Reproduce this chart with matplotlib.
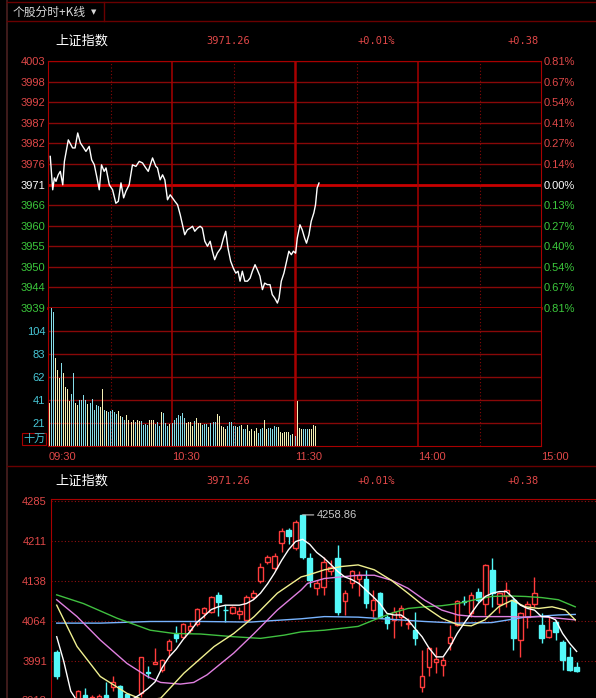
import numpy as np
import matplotlib
matplotlib.use('Agg')
import matplotlib.pyplot as plt
from matplotlib.patches import Rectangle

W, H = 596, 698
plt.rcParams['font.family'] = ['Liberation Sans', 'Noto Sans CJK SC', 'DejaVu Sans']

# ---------------- 分时数据 ----------------
prev_close = 3970.88
price_labels = ['4003', '3998', '3992', '3987', '3982', '3976', '3971',
                '3966', '3960', '3955', '3950', '3944', '3939']
pct_labels = ['0.81%', '0.67%', '0.54%', '0.41%', '0.27%', '0.14%', '0.00%',
              '0.13%', '0.27%', '0.40%', '0.54%', '0.67%', '0.81%']
vol_labels = ['21', '41', '62', '83', '104']
time_labels = ['09:30', '10:30', '11:30', '14:00', '15:00']

line_min = [0.6, 1.8, 2.6, 3.4, 4.5, 5.5, 6.7, 7.5, 9.4, 11.5,
            12.7, 14.0, 15.3, 16.9, 18.0, 19.6, 20.8, 22.1, 23.4, 24.5,
            25.6, 26.9, 27.8, 29.4, 31.0, 32.6, 33.8, 35.1, 36.4, 37.5,
            39.1, 40.7, 42.4, 44.0, 45.6, 47.2, 48.4, 50.5, 52.1, 52.9,
            54.2, 55.4, 56.5, 57.8, 59.1, 60.2, 61.4, 62.7, 64.0, 65.1,
            66.2, 67.5, 68.8, 70.0, 71.1, 72.4, 73.7, 74.8, 76.0, 77.3,
            78.6, 79.7, 80.8, 82.1, 83.8, 85.1, 86.2, 87.3, 88.6, 89.9,
            91.1, 92.2, 93.2, 94.3, 95.5, 96.8, 98.1, 99.2, 100.5, 101.6,
            102.9, 104.1, 105.2, 106.5, 107.8, 108.9, 110.1, 111.4, 112.2, 113.3,
            114.6, 115.9, 117.0, 118.2, 119.2, 120.3, 121.1, 122.4, 123.5, 124.7,
            125.6, 126.8, 127.9, 129.2, 130.0, 130.8, 131.7]
line_price = [3978.2, 3969.5, 3972.6, 3971.7, 3973.4, 3974.3, 3970.8, 3976.9, 3982.5, 3980.4,
              3980.4, 3984.3, 3981.7, 3980.4, 3979.5, 3980.8, 3977.3, 3976.0, 3972.6, 3969.5,
              3976.0, 3974.3, 3975.2, 3970.8, 3969.5, 3966.0, 3966.5, 3971.3, 3967.4, 3969.1,
              3970.8, 3976.0, 3975.6, 3976.9, 3976.5, 3975.2, 3974.3, 3977.8, 3975.6, 3975.2,
              3972.1, 3973.4, 3972.1, 3966.9, 3968.2, 3967.4, 3966.5, 3965.6, 3963.0, 3960.4,
              3957.8, 3959.1, 3959.5, 3960.0, 3958.7, 3959.5, 3960.0, 3959.5, 3956.1, 3954.8,
              3956.1, 3953.5, 3951.3, 3953.0, 3954.3, 3956.9, 3958.7, 3954.3, 3950.9, 3949.1,
              3947.8, 3948.3, 3945.7, 3948.3, 3945.7, 3945.7, 3946.5, 3948.3, 3950.0, 3948.7,
              3947.0, 3943.5, 3945.2, 3944.8, 3944.8, 3942.2, 3941.3, 3940.0, 3941.3, 3945.7,
              3947.8, 3950.9, 3953.5, 3952.6, 3953.5, 3953.0, 3956.9, 3960.4, 3959.1, 3956.9,
              3955.6, 3957.8, 3961.3, 3963.5, 3965.6, 3970.0, 3971.26]

# 成交量 (十万), 每分钟一根
volume = [39, 125, 121, 80, 69, 62, 75, 66, 53, 52, 41, 47, 66, 39, 37, 42, 42, 46, 42, 38,
          39, 43, 33, 37, 36, 35, 52, 33, 32, 31, 32, 33, 31, 29, 32, 27, 26, 24, 28, 24,
          22, 24, 22, 24, 23, 23, 19, 20, 19, 24, 24, 24, 20, 22, 18, 31, 30, 21, 18, 20,
          21, 24, 25, 28, 27, 30, 25, 21, 22, 22, 18, 23, 25, 21, 21, 19, 20, 20, 17, 21,
          22, 22, 29, 27, 18, 17, 15, 18, 22, 22, 18, 18, 17, 18, 19, 15, 15, 19, 14, 15,
          14, 16, 12, 15, 16, 24, 15, 16, 16, 15, 18, 17, 17, 13, 12, 13, 13, 13, 10, 11,
          9, 41, 16, 15, 15, 15, 15, 15, 15, 19, 18]

# ---------------- K线数据 ----------------
k_open = [4007, 3920, 3895, 3905, 3928, 3915, 3910, 3928, 3942, 3944,
          3930, 3905, 3932, 3970, 3985, 3974, 4011, 4040, 4035, 4047,
          4058, 4078, 4080, 4111, 4085, 4079, 4077, 4066, 4108, 4138,
          4173, 4161, 4207, 4232, 4198, 4258, 4179, 4124, 4127, 4155,
          4179, 4100, 4133, 4142, 4142, 4084, 4115, 4072, 4066, 4072,
          4059, 4047, 3943, 3980, 3989, 3983, 4023, 4057, 4100, 4078,
          4118, 4096, 4158, 4096, 4109, 4103, 4029, 4072, 4096, 4057,
          4035, 4063, 4026, 3998, 3980]
k_high = [4010, 3921, 3915, 3938, 3940, 3928, 3930, 3952, 3963, 3946,
          3932, 3918, 3998, 3981, 4014, 3995, 4030, 4054, 4060, 4063,
          4088, 4090, 4110, 4117, 4093, 4092, 4090, 4112, 4121, 4170,
          4185, 4188, 4234, 4234, 4250, 4258.86, 4188, 4139, 4182, 4176,
          4204, 4121, 4158, 4155, 4158, 4121, 4118, 4075, 4090, 4093,
          4069, 4081, 4011, 4017, 4017, 3998, 4057, 4103, 4109, 4118,
          4124, 4169, 4179, 4118, 4136, 4106, 4081, 4100, 4145, 4078,
          4072, 4066, 4029, 4017, 3989]
k_low = [3958, 3880, 3870, 3900, 3890, 3908, 3905, 3900, 3936, 3900,
         3895, 3885, 3925, 3960, 3984, 3970, 3998, 4026, 4032, 4041,
         4055, 4069, 4078, 4073, 4063, 4077, 4067, 4064, 4104, 4134,
         4169, 4158, 4191, 4205, 4195, 4178, 4127, 4112, 4112, 4149,
         4075, 4075, 4124, 4109, 4087, 4072, 4069, 4050, 4032, 4054,
         4050, 4020, 3934, 3962, 3968, 3962, 4011, 4054, 4093, 4072,
         4098, 4075, 4090, 4078, 4090, 4011, 3998, 4051, 4090, 4023,
         4032, 4029, 3974, 3972, 3971]
k_close = [3962, 3890, 3880, 3936, 3900, 3924, 3926, 3905, 3952, 3910,
           3905, 3912, 3997, 3968, 3989, 3992, 4028, 4032, 4058, 4055,
           4086, 4087, 4108, 4098, 4084, 4090, 4083, 4108, 4116, 4163,
           4182, 4183, 4230, 4220, 4246, 4182, 4140, 4133, 4173, 4164,
           4081, 4115, 4155, 4148, 4097, 4102, 4072, 4060, 4081, 4087,
           4061, 4032, 3962, 4014, 3995, 3992, 4035, 4100, 4099, 4112,
           4102, 4167, 4115, 4115, 4121, 4032, 4078, 4096, 4115, 4032,
           4047, 4044, 3992, 3974, 3971.26]
k_ticks = [4285, 4211, 4138, 4064, 3991, 3918]
high_mark = 4258.86

ma5 = [4035, 3990, 3935, 3915, 3905, 3908, 3912, 3915, 3920, 3918,
       3918, 3922, 3930, 3940, 3952, 3978, 3998, 4012, 4030, 4045,
       4062, 4073, 4085, 4090, 4093, 4093, 4093, 4096, 4103, 4115,
       4132, 4152, 4175, 4195, 4210, 4214, 4205, 4190, 4180, 4168,
       4155, 4145, 4140, 4133, 4121, 4109, 4096, 4078, 4075, 4075,
       4066, 4050, 4035, 4014, 3998, 3998, 4017, 4041, 4060, 4078,
       4096, 4109, 4115, 4118, 4118, 4106, 4093, 4087, 4084, 4072,
       4072, 4066, 4041, 4023, 4008]
ma10_k = [0, 2.9, 6.2, 10, 12.5, 14.8, 18.1, 22.4, 25.2, 28.1, 31.4, 34.8, 35.7, 38.1, 40.5,
          42.9, 45.2, 47.6, 50, 52.4, 54.8, 57.1, 59, 60.95, 62.9, 64.8, 66.7, 68.6, 70.5, 72.4, 73.8]
ma10 = [4093, 4017, 3962, 3931, 3918, 3922, 3968, 4017, 4041, 4072, 4115, 4145, 4148, 4158, 4164,
        4167, 4158, 4139, 4115, 4090, 4069, 4057, 4055, 4066, 4090, 4102, 4090, 4087, 4090, 4084, 4066]
ma20_k = [0, 2.9, 6.2, 10, 12.9, 14.8, 17.6, 19.5, 21.4, 25.2, 28.1, 31.4, 34.8, 35.7, 38.1,
          40.5, 42.9, 45.2, 47.6, 50, 52.4, 54.8, 57.1, 59.5, 61.9, 64.3, 66.7, 69, 71.4, 73.8]
ma20 = [4103, 4072, 4029, 3986, 3962, 3951, 3948, 3951, 3965, 4005, 4041, 4084, 4121, 4133, 4142,
        4145, 4148, 4148, 4139, 4124, 4102, 4084, 4075, 4072, 4072, 4072, 4071, 4072, 4069, 4066]
ma60_k = [0, 3.8, 8.6, 13.3, 16.7, 20.5, 25.2, 29, 32.4, 34.8, 38.1, 42.9, 45.2, 47.6, 50,
          52.4, 54.8, 57.1, 59.5, 61.9, 64.3, 66.7, 69, 71.4, 73.8]
ma60 = [4112, 4096, 4069, 4047, 4041, 4040, 4035, 4032, 4038, 4044, 4047, 4054, 4066, 4078, 4087,
        4090, 4092, 4096, 4103, 4109, 4110, 4109, 4107, 4103, 4090]
ma120_k = [0, 6.2, 13.3, 20.5, 27.6, 34.8, 38.1, 42.9, 47.6, 52.4, 57.1, 61.9, 66.7, 71.4, 73.8]
ma120 = [4060, 4060, 4063, 4063, 4062, 4068, 4072, 4071, 4067, 4063, 4060, 4061, 4071, 4075, 4076]

# 颜色
GRID = '#880808'
FRAME = '#a80000'
RED_TXT = '#e04848'
GRN_TXT = '#3cc83c'
CYAN_TXT = '#48c8d8'


def add_ax(l, t, r, b):
    # 以像素坐标 (左, 上, 右, 下) 建轴
    return fig.add_axes([l / W, 1 - b / H, (r - l) / W, (b - t) / H])


fig = plt.figure(figsize=(W / 100, H / 100), dpi=100, facecolor='black')

# 背景层: 边框和标题文字
bg = fig.add_axes([0, 0, 1, 1])
bg.set_xlim(0, W)
bg.set_ylim(H, 0)
bg.axis('off')
bg.plot([7, 7], [0, H], color='#4a2020', lw=1.2)
bg.plot([7, W], [2, 2], color='#6a0000', lw=1)
bg.plot([7, W], [21, 21], color='#6a0000', lw=1)
bg.plot([104, 104], [2, 21], color='#6a0000', lw=1)
bg.plot([7, W], [466, 466], color='#6a0000', lw=1)
bg.text(13, 12, '个股分时+K线', color='#d8d8d8', fontsize=8.5, va='center',
        family=['Noto Sans CJK SC', 'DejaVu Sans'])
bg.text(91, 12, '▼', color='#d8d8d8', fontsize=5, va='center', family='DejaVu Sans')
for yy in (41, 481):
    bg.text(55, yy, '上证指数', color='white', fontsize=9.5, va='center',
            family=['Noto Sans CJK SC', 'DejaVu Sans'])
    bg.text(206, yy, '3971.26', color=RED_TXT, fontsize=7.5, va='center', family='DejaVu Sans Mono')
    bg.text(357, yy, '+0.01%', color=RED_TXT, fontsize=7.5, va='center', family='DejaVu Sans Mono')
    bg.text(508, yy, '+0.38', color=RED_TXT, fontsize=7.5, va='center', family='DejaVu Sans Mono')
bg.text(34, 439, '十万', color=CYAN_TXT, fontsize=8, ha='center', va='center',
        family=['Noto Sans CJK SC', 'DejaVu Sans'],
        bbox=dict(boxstyle='square,pad=0.1', fc='black', ec=FRAME, lw=0.8))

# ---------------- 分时价格 ----------------
lo, hi = prev_close * (1 - 0.0081), prev_close * (1 + 0.0081)
levels = np.linspace(hi, lo, len(price_labels))
pa = add_ax(48, 61, 541, 308)
pa.set_facecolor('black')
pa.set_xlim(-0.5, 240)
pa.set_ylim(lo, hi)
for j, lv in enumerate(levels):
    if j == 6:
        pa.axhline(lv, color='#c80000', lw=2, zorder=1)
    elif j == len(levels) - 1:
        pa.axhline(lv, color='#a00000', lw=2, clip_on=False, zorder=1)
    else:
        pa.axhline(lv, color=GRID, lw=1, zorder=1)
for m in (60, 180):
    pa.axvline(m, color=FRAME, lw=1.1, zorder=1)
pa.axvline(120, color=FRAME, lw=1.8, zorder=1)
for m in (30, 90, 150, 210):
    pa.axvline(m, color=GRID, lw=0.8, ls=(0, (1, 2)), zorder=1)
pa.plot(line_min, line_price, color='white', lw=1, zorder=3)
for s in pa.spines.values():
    s.set_color(FRAME)
pa.spines['bottom'].set_visible(False)
pa.set_xticks([])
pa.set_yticks(levels)
pa.set_yticklabels(price_labels)
pa.tick_params(axis='y', length=0, pad=2, labelsize=8)
for j, t in enumerate(pa.get_yticklabels()):
    t.set_color(RED_TXT if j < 6 else ('white' if j == 6 else GRN_TXT))
pr = pa.twinx()
pr.set_ylim(lo, hi)
pr.set_yticks(levels)
pr.set_yticklabels(pct_labels)
pr.tick_params(axis='y', length=0, pad=2, labelsize=8)
for s in pr.spines.values():
    s.set_visible(False)
for j, t in enumerate(pr.get_yticklabels()):
    t.set_color(RED_TXT if j < 6 else ('white' if j == 6 else GRN_TXT))

# ---------------- 成交量 ----------------
va = add_ax(48, 308, 541, 446)
va.set_facecolor('black')
va.set_xlim(-0.5, 240)
va.set_ylim(0, 125)
vol_levels = np.linspace(0, 125, 7)[1:-1]
for lv in vol_levels:
    va.axhline(lv, color=GRID, lw=1, zorder=1)
for m in (60, 180):
    va.axvline(m, color=FRAME, lw=1.1, zorder=1)
va.axvline(120, color=FRAME, lw=1.8, zorder=1)
for m in (30, 90, 150, 210):
    va.axvline(m, color=GRID, lw=0.8, ls=(0, (1, 2)), zorder=1)
vx = np.arange(len(volume))
p_at = np.interp(vx, line_min, line_price)
up = np.r_[True, np.diff(p_at) >= 0]
vcol = np.where(up, '#f4f0b4', '#86dce8')
va.bar(vx, volume, width=0.5, color=vcol, lw=0, zorder=2)
for s in va.spines.values():
    s.set_color(FRAME)
va.spines['top'].set_visible(False)
va.set_yticks(vol_levels)
va.set_yticklabels(vol_labels)
va.tick_params(axis='y', length=0, pad=2, labelsize=8, labelcolor=CYAN_TXT)
va.set_xticks([0, 60, 120, 180, 240])
va.set_xticklabels(time_labels)
va.tick_params(axis='x', length=0, pad=4, labelsize=8, labelcolor=RED_TXT)
for t in va.get_xticklabels():
    t.set_ha('left')

# ---------------- 日K线 ----------------
ka = add_ax(51, 499, W + 2, 760)
ka.set_facecolor('black')
ka.set_xlim(-0.81, 77.04)
ka.set_ylim(3808.5, 4288.1)
for lv in k_ticks:
    ka.axhline(lv, color='#901010', lw=0.8, ls=(0, (1, 2)), zorder=1)
for i in range(len(k_open)):
    o, h, l, c = k_open[i], k_high[i], k_low[i], k_close[i]
    bot, top = min(o, c), max(o, c)
    if c > o:
        col = '#ff3c3c'
        ka.vlines(i, l, bot, color=col, lw=1, zorder=2)
        ka.vlines(i, top, h, color=col, lw=1, zorder=2)
        ka.add_patch(Rectangle((i - 0.32, bot), 0.64, top - bot, fc='black', ec=col, lw=1, zorder=3))
    else:
        col = '#54f8f8'
        ka.vlines(i, l, h, color=col, lw=1, zorder=2)
        ka.add_patch(Rectangle((i - 0.32, bot), 0.64, max(top - bot, 0.8), fc=col, ec=col, lw=1, zorder=3))
ka.plot(ma120_k, ma120, color='#78b4ff', lw=1, zorder=4)
ka.plot(ma60_k, ma60, color='#40c040', lw=1, zorder=4)
ka.plot(ma20_k, ma20, color='#e080e0', lw=1, zorder=4)
ka.plot(ma10_k, ma10, color='#f0f090', lw=1, zorder=4)
ka.plot(range(len(ma5)), ma5, color='white', lw=1, zorder=5)
ka.annotate(f'{high_mark:.2f}', xy=(int(np.argmax(k_high)), high_mark), xytext=(10, 0),
            textcoords='offset points', color='#c8c8c8', fontsize=8, va='center',
            arrowprops=dict(arrowstyle='-', color='#c8c8c8', lw=0.8, shrinkA=0, shrinkB=0))
for s in ka.spines.values():
    s.set_color(FRAME)
ka.spines['right'].set_visible(False)
ka.spines['bottom'].set_visible(False)
ka.set_xticks([])
ka.set_yticks(k_ticks)
ka.set_yticklabels([str(v) for v in k_ticks])
ka.tick_params(axis='y', length=0, pad=3, labelsize=8, labelcolor=RED_TXT)

fig.savefig('out.png', dpi=100, facecolor='black')
